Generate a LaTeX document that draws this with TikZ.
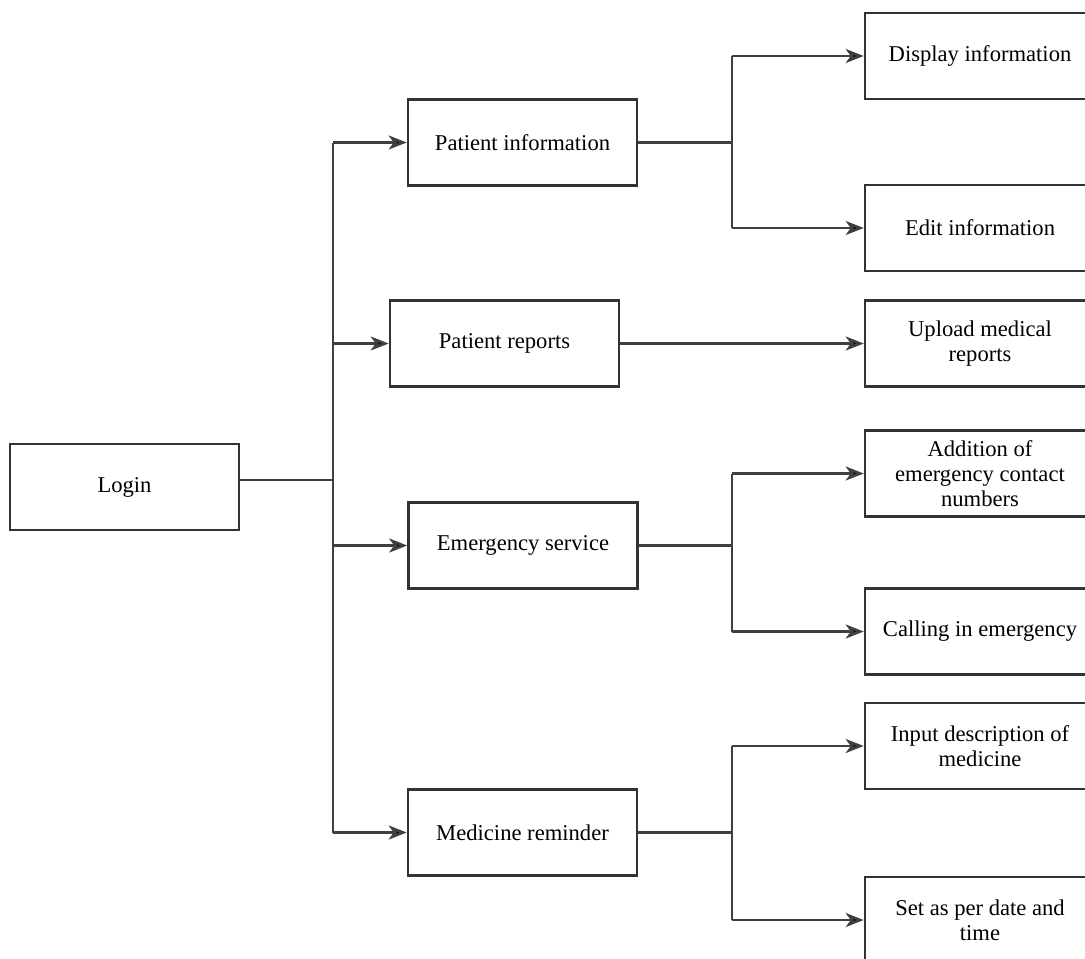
\documentclass[tikz,border=0pt]{standalone}
\usepackage{fontspec}
\setmainfont{Liberation Serif}
\usetikzlibrary{arrows.meta}
\begin{document}
\begin{tikzpicture}[x=0.5pt,y=-0.5pt,
 box/.style={draw=black!80, line width=1.3pt, minimum width=114.5pt, minimum height=43pt, inner sep=0pt, align=center, font=\fontsize{11.3}{12.5}\selectfont},
 rbox/.style={box, minimum width=115pt},
 ln/.style={draw=black!75, line width=1.3pt},
 arr/.style={ln, -{Stealth[length=9pt,width=7pt,inset=2.5pt,fill=black]}}]
\useasboundingbox (0,0) rectangle (1085,958);
\clip (0,0) rectangle (1085,958);
% left and middle columns
\node[box] (login) at (124.5,487) {Login};
\node[box] (pinfo) at (522.5,142.5) {Patient information};
\node[box] (prep) at (504.5,343.5) {Patient reports};
\node[box] (emerg) at (523,545.5) {Emergency service};
\node[box] (med) at (522.5,832.5) {Medicine reminder};
% right column
\node[rbox] (disp) at (980,56) {Display information};
\node[rbox] (edit) at (980,228) {Edit information};
\node[rbox] (upl) at (980,343.5) {Upload medical\\reports};
\node[rbox] (add) at (980,473.5) {Addition of\\emergency contact\\numbers};
\node[rbox] (call) at (980,631.5) {Calling in emergency};
\node[rbox] (inp) at (980,746) {Input description of\\medicine};
\node[rbox] (set) at (980,920) {Set as per date and\\time};
% junctions
\coordinate (j0) at (333,480);
\coordinate (b1) at (732,142);
\coordinate (b3) at (732,545);
\coordinate (b4) at (732,833);
% trunk
\draw[ln] (login.east |- j0) -- (j0);
\draw[ln] (pinfo.west -| j0) -- (med.west -| j0);
\draw[arr] (pinfo.west -| j0) -- (pinfo.west);
\draw[arr] (prep.west -| j0) -- (prep.west);
\draw[arr] (emerg.west -| j0) -- (emerg.west);
\draw[arr] (med.west -| j0) -- (med.west);
% patient information
\draw[ln] (pinfo.east) -- (pinfo.east -| b1);
\draw[ln] (disp.west -| b1) -- (edit.west -| b1);
\draw[arr] (disp.west -| b1) -- (disp.west);
\draw[arr] (edit.west -| b1) -- (edit.west);
% patient reports
\draw[arr] (prep.east) -- (upl.west);
% emergency
\draw[ln] (emerg.east) -- (emerg.east -| b3);
\draw[ln] (add.west -| b3) -- (call.west -| b3);
\draw[arr] (add.west -| b3) -- (add.west);
\draw[arr] (call.west -| b3) -- (call.west);
% medicine
\draw[ln] (med.east) -- (med.east -| b4);
\draw[ln] (inp.west -| b4) -- (set.west -| b4);
\draw[arr] (inp.west -| b4) -- (inp.west);
\draw[arr] (set.west -| b4) -- (set.west);
\end{tikzpicture}
\end{document}
